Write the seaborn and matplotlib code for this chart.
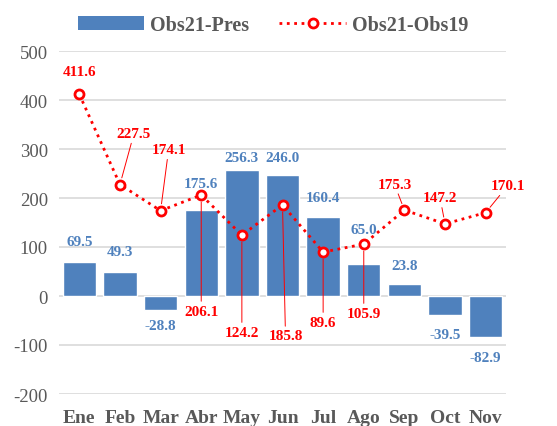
import matplotlib
import matplotlib.pyplot as plt
import numpy as np
import pandas as pd
import seaborn as sns
from matplotlib.lines import Line2D
from matplotlib.patches import Patch

matplotlib.use("Agg")

# ---------------------------------------------------------------------------
# Data
# ---------------------------------------------------------------------------
months = ["Ene", "Feb", "Mar", "Abr", "May", "Jun", "Jul", "Ago", "Sep", "Oct", "Nov"]
obs21_pres = [69.5, 49.3, -28.8, 175.6, 256.3, 246.0, 160.4, 65.0, 23.8, -39.5, -82.9]
obs21_obs19 = [411.6, 227.5, 174.1, 206.1, 124.2, 185.8, 89.6, 105.9, 175.3, 147.2, 170.1]
y_ticks = [-200, -100, 0, 100, 200, 300, 400, 500]

# ---------------------------------------------------------------------------
# Style
# ---------------------------------------------------------------------------
BLUE = "#4F81BD"
RED = "#FF0000"
GREY = "#595959"
GRID = "#D9D9D9"

# label offsets in pixels (dx, dy) and whether a leader line is drawn
red_offsets = [(0, 23), (14, 51), (8, 61), (0, -116), (0, -97), (3, -131),
               (0, -70), (0, -69), (-10, 26), (-5, 26), (22, 27)]
red_leader = [False, True, True, True, True, True, True, True, True, True, True]
blue_offsets = [20, 20, -15, 26, 13, 18, 20, 35, 19, -19, -21]

sns.set_theme(style="white")
plt.rcParams["font.family"] = ["Liberation Serif", "DejaVu Serif"]

df = pd.DataFrame({"mes": months, "pres": obs21_pres, "obs19": obs21_obs19})
df["idx"] = np.arange(len(df))

fig = plt.figure(figsize=(5.57, 4.27), dpi=100)
ax = fig.add_axes([59 / 557, 1 - 395 / 427, 447 / 557, 343 / 427])

for t in y_ticks:
    ax.axhline(t, color=GRID, linewidth=1.2, zorder=0)

sns.barplot(data=df, x="mes", y="pres", order=months, color=BLUE,
            saturation=1, width=0.82, ax=ax, zorder=2)

sns.lineplot(data=df, x="idx", y="obs19", ax=ax, color=RED, linestyle=":",
             linewidth=2, marker="o", markersize=6.5, markerfacecolor="white",
             markeredgecolor=RED, markeredgewidth=2, zorder=4)

# blue bar labels
for i, v in enumerate(obs21_pres):
    ax.annotate(f"{v:.1f}", xy=(i, v), xytext=(0, blue_offsets[i]),
                textcoords="offset pixels", ha="center", va="center",
                color=BLUE, fontsize=11, fontweight="bold", zorder=5)

# red line labels
for i, v in enumerate(obs21_obs19):
    dx, dy = red_offsets[i]
    arrow = None
    if red_leader[i]:
        arrow = dict(arrowstyle="-", color=RED, lw=0.7, shrinkA=0, shrinkB=5)
    ax.annotate(f"{v:.1f}", xy=(i, v), xytext=(dx, dy),
                textcoords="offset pixels", ha="center", va="center",
                color=RED, fontsize=11, fontweight="bold",
                arrowprops=arrow, zorder=5)

ax.set_xlim(-0.5, len(months) - 0.5)
ax.set_ylim(-200, 500)
ax.set_yticks(y_ticks)
ax.set_yticklabels([str(t) for t in y_ticks], fontsize=13.5, color=GREY)
ax.set_xticks(range(len(months)))
ax.set_xticklabels(months, fontsize=14, fontweight="bold", color=GREY)
ax.tick_params(axis="y", length=0, pad=8)
ax.tick_params(axis="x", length=0, pad=11)
ax.set_xlabel("")
ax.set_ylabel("")
sns.despine(ax=ax, left=True, bottom=True)
ax.grid(False)

handles = [
    Patch(facecolor=BLUE, edgecolor="none", label="Obs21-Pres"),
    Line2D([0], [0], color=RED, linestyle=":", linewidth=2, marker="o",
           markersize=6.5, markerfacecolor="white", markeredgecolor=RED,
           markeredgewidth=2, label="Obs21-Obs19"),
]
fig.legend(handles=handles, loc="upper center", bbox_to_anchor=(0.49, 1.005),
           ncol=2, frameon=False, handlelength=3.3, handletextpad=0.3,
           columnspacing=1.5, prop={"size": 14.5, "weight": "bold"},
           labelcolor=GREY)

fig.savefig("out.png", dpi=100)
